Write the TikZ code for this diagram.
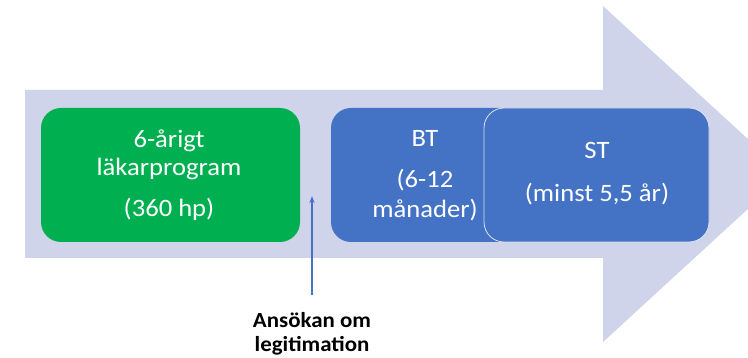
\documentclass[tikz,border=0pt]{standalone}
\usepackage{fontspec}
\setmainfont{Carlito}[FakeStretch=1.065]
\usetikzlibrary{arrows.meta}
\definecolor{arrowbg}{HTML}{CFD4EA}
\definecolor{boxgreen}{HTML}{00B050}
\definecolor{boxblue}{HTML}{4472C4}
\tikzset{
  stagebox/.style={rounded corners=20pt, minimum height=134pt, inner sep=0pt},
  wtext/.style={text=white, font=\fontsize{25}{30}\selectfont, anchor=base, inner sep=0pt},
  btext/.style={text=black, font=\bfseries\fontsize{21.5}{25}\selectfont, anchor=base, inner sep=0pt},
}
\begin{document}
\begin{tikzpicture}[x=1pt,y=-1pt]
\useasboundingbox (0,0) rectangle (748,358);
\clip (0,0) rectangle (748,358);
\fill[white] (0,0) rectangle (748,358);
% big arrow
\fill[arrowbg] (25,90) -- (603,90) -- (603,6) -- (786,174) -- (603,342) -- (603,258) -- (25,258) -- cycle;
% boxes
\node[stagebox, fill=boxgreen, minimum width=259pt] (prog) at (170.5,175) {};
\node[stagebox, fill=boxblue, minimum width=190pt] (bt) at (426,175) {};
\node[stagebox, fill=boxblue, draw=white!80!boxblue, line width=0.8pt, minimum width=225pt] (st) at (596.5,175) {};
% texts
\node[wtext] (p1) at (169,148) {6-årigt};
\node[wtext] (p2) at (169,176) {läkarprogram};
\node[wtext] (p3) at (169,217) {(360 hp)};
\node[wtext] (b1) at (425,147) {BT};
\node[wtext] (b2) at (425,188) {(6-12};
\node[wtext] (b3) at (425,218) {månader)};
\node[wtext] (s1) at (597,159) {ST};
\node[wtext] (s2) at (597,202) {(minst 5,5 år)};
% application marker
\coordinate (legbase) at (312,295);
\coordinate (legtip) at (312,196);
\draw[boxblue, line width=1.3pt, -{Stealth[length=7pt,width=5pt]}] (legbase) -- (legtip);
\node[btext] (l1) at (312,328) {Ansökan om};
\node[btext] (l2) at (312,352) {legitimation};
\end{tikzpicture}
\end{document}
